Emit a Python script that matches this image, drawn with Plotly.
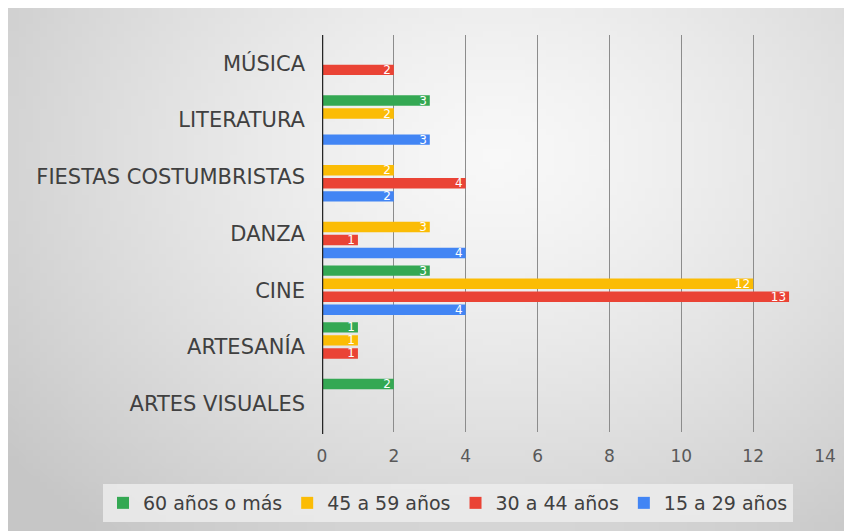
import base64, struct, zlib
import plotly.graph_objects as go

categories = ["ARTES VISUALES", "ARTESANÍA", "CINE", "DANZA",
              "FIESTAS COSTUMBRISTAS", "LITERATURA", "MÚSICA"]
series_names = ["15 a 29 años", "30 a 44 años", "45 a 59 años", "60 años o más"]
v_15_29 = [None, None, 4, 4, 2, 3, None]
v_30_44 = [None, 1, 13, 1, 4, None, 2]
v_45_59 = [None, 1, 12, 3, 2, 2, None]
v_60_mas = [2, 1, 3, None, None, 3, None]
series_values = [v_15_29, v_30_44, v_45_59, v_60_mas]
colors = ["#4285F4", "#EA4335", "#FBBC05", "#34A853"]
x_ticks = [0, 2, 4, 6, 8, 10, 12, 14]

FONT = "DejaVu Sans"


def gradient_png(w, h):
    rows = []
    for j in range(h):
        row = bytearray([0])
        for i in range(w):
            dx = (i / (w - 1) - 0.58) / 0.75
            dy = (j / (h - 1) - 0.28) / 0.95
            t = min(1.0, (dx * dx + dy * dy) ** 0.5)
            c = int(round(248 - (248 - 198) * t ** 1.3))
            row += bytes([c, c, c])
        rows.append(bytes(row))
    raw = b"".join(rows)

    def chunk(tag, data):
        return (struct.pack(">I", len(data)) + tag + data +
                struct.pack(">I", zlib.crc32(tag + data) & 0xffffffff))

    png = (b"\x89PNG\r\n\x1a\n" +
           chunk(b"IHDR", struct.pack(">IIBBBBB", w, h, 8, 2, 0, 0, 0)) +
           chunk(b"IDAT", zlib.compress(raw, 9)) +
           chunk(b"IEND", b""))
    return "data:image/png;base64," + base64.b64encode(png).decode()


fig = go.Figure()
for name, vals, col in zip(series_names, series_values, colors):
    fig.add_trace(go.Bar(
        y=categories, x=vals, name=name, orientation="h",
        marker=dict(color=col, line=dict(width=0)),
        text=[("" if v is None else str(v)) for v in vals],
        textposition="inside", insidetextanchor="end", textangle=0,
        constraintext="none",
        textfont=dict(color="white", size=12, family=FONT),
    ))

# figure sits inside the page's 8px body margin
W, H = 844, 523
L, R, T, B = 314, 27, 27, 99
pw, ph = W - L - R, H - T - B

fig.update_layout(
    width=W, height=H,
    margin=dict(l=L, r=R, t=T, b=B, pad=0, autoexpand=False),
    barmode="group", bargap=0.08, bargroupgap=0.2,
    paper_bgcolor="#d8d8d8", plot_bgcolor="rgba(0,0,0,0)",
    font=dict(family=FONT, color="#404040"),
    showlegend=True,
    legend=dict(
        orientation="h", traceorder="reversed",
        xref="paper", yref="paper",
        x=(95 - L) / pw, xanchor="left", y=-(476 - (T + ph)) / ph, yanchor="top",
        font=dict(size=19, color="#404040", family=FONT),
        bgcolor="rgba(236,236,236,0.85)", itemwidth=30,
    ),
    xaxis=dict(
        range=[0, 14], tickvals=x_ticks, ticktext=[str(t) for t in x_ticks],
        showgrid=True, gridcolor="#8c8c8c", gridwidth=1,
        zeroline=False, showline=False, ticks="",
        tickfont=dict(size=17, color="#595959"), ticklabelstandoff=12,
    ),
    yaxis=dict(
        categoryorder="array", categoryarray=categories,
        showgrid=False, zeroline=False, showline=False, ticks="",
        tickfont=dict(size=21, color="#404040"), ticklabelstandoff=16,
    ),
    images=[dict(
        source=gradient_png(120, 80), xref="paper", yref="paper",
        x=-L / pw, y=(T + ph) / ph,
        sizex=W / pw, sizey=H / ph,
        sizing="stretch", xanchor="left", yanchor="top", layer="below",
    )],
    shapes=[dict(type="line", xref="x", yref="paper", x0=0, x1=0, y0=-0.005, y1=1,
                 line=dict(color="#262626", width=2.5), layer="above")],
)

fig.write_html("out.html")
